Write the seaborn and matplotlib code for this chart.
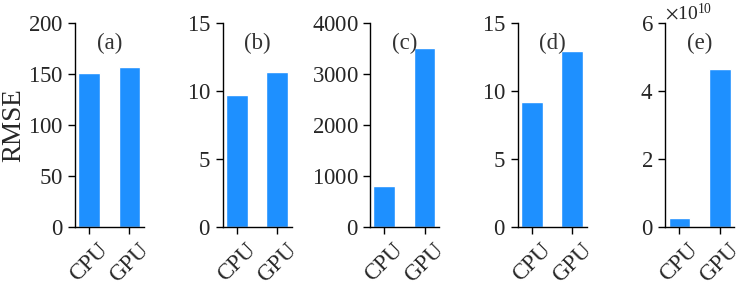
import matplotlib
matplotlib.use('Agg')
import matplotlib.pyplot as plt
from matplotlib.ticker import ScalarFormatter
import seaborn as sns
import pandas as pd

devices = ['CPU', 'GPU']
panel_labels = ['(a)', '(b)', '(c)', '(d)', '(e)']
rmse_a = [151.5, 157.4]
rmse_b = [9.73, 11.44]
rmse_c = [810, 3510]
rmse_d = [9.21, 12.96]
rmse_e = [0.28e10, 4.66e10]
ylims = [200, 15, 4000, 15, 6e10]
yticks = [[0, 50, 100, 150, 200], [0, 5, 10, 15], [0, 1000, 2000, 3000, 4000],
          [0, 5, 10, 15], [0, 2e10, 4e10, 6e10]]

sns.set_style('ticks')
plt.rcParams['font.family'] = 'serif'
plt.rcParams['font.serif'] = ['Liberation Serif', 'DejaVu Serif']
plt.rcParams['mathtext.fontset'] = 'stix'

fig, axes = plt.subplots(1, 5, figsize=(7.5, 3), dpi=100)
fig.subplots_adjust(left=0.1, right=0.979, top=0.922, bottom=0.242, wspace=1.14)

for ax, vals, lab, ym, yt in zip(axes, [rmse_a, rmse_b, rmse_c, rmse_d, rmse_e],
                                 panel_labels, ylims, yticks):
    df = pd.DataFrame({'device': devices, 'rmse': vals})
    sns.barplot(data=df, x='device', y='rmse', color='#1E90FF', saturation=1,
                width=0.54, ax=ax)
    ax.set_xlim(-0.35, 1.36)
    ax.set_ylim(0, ym)
    ax.set_yticks(yt)
    ax.yaxis.set_major_formatter(ScalarFormatter(useMathText=True))
    ax.set_xlabel('')
    ax.set_ylabel('')
    ax.tick_params(axis='both', labelsize=16.5, length=5, width=1, color='black')
    ax.tick_params(axis='x', labelrotation=45)
    ax.text(0.5, 0.9, lab, transform=ax.transAxes, ha='center', va='center',
            fontsize=16.5, color='#333333')
    ax.yaxis.get_offset_text().set_fontsize(14)
    for s in ['left', 'bottom']:
        ax.spines[s].set_color('black')
        ax.spines[s].set_linewidth(1)
    sns.despine(ax=ax)

axes[0].set_ylabel('RMSE', fontsize=19.5)
axes[0].yaxis.set_label_coords(-0.71, 0.5)

plt.savefig('out.png')
